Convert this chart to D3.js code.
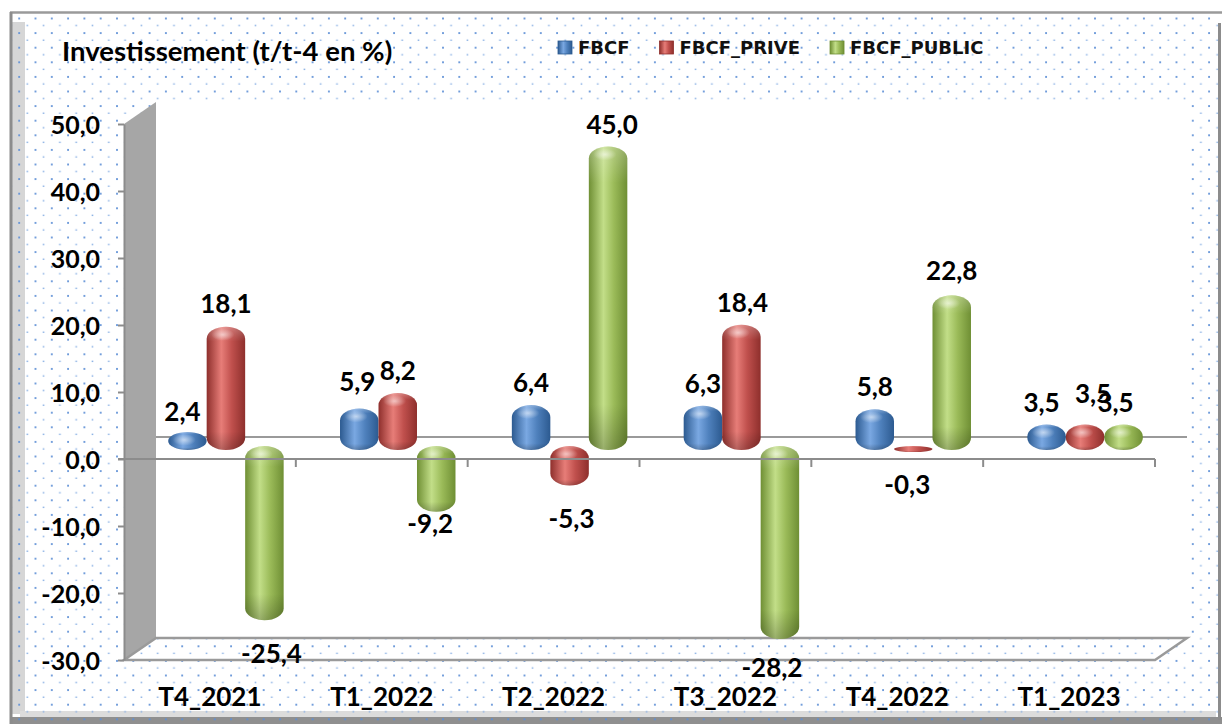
<!DOCTYPE html>
<html>
<head>
<meta charset="utf-8">
<script src="https://cdn.jsdelivr.net/npm/d3@7"></script>
<style>
    body { margin: 0; background: #fff; }
    svg { display: block; }
    .lbl { font-family: Lato, "Open Sans", sans-serif; font-weight: bold; fill: #000; }
</style>
</head>
<body>
<svg width="1222" height="724"></svg>
<script>
// chart values
var categories = ["T4_2021", "T1_2022", "T2_2022", "T3_2022", "T4_2022", "T1_2023"];
var series_names = ["FBCF", "FBCF_PRIVE", "FBCF_PUBLIC"];
var fbcf = [2.4, 5.9, 6.4, 6.3, 5.8, 3.5];
var fbcf_prive = [18.1, 8.2, -5.3, 18.4, -0.3, 3.5];
var fbcf_public = [-25.4, -9.2, 45.0, -28.2, 22.8, 3.5];
var y_ticks = [-30, -20, -10, 0, 10, 20, 30, 40, 50];

// small manual nudges of the data labels (like excel's dragged labels)
var nudge_fbcf = [[-5, 2], [-2, -4], [0, 0], [0, 0], [0, 0], [-5, 0]];
var nudge_prive = [[0, -1], [0, 0], [2, 0], [1, 0], [-6, 0], [8, -9]];
var nudge_public = [[7, 1], [-6, -21], [4, 0], [-8, -4], [0, -2], [-8, 0]];

var colors = {
    FBCF: { dark: "#2c5a90", base: "#4f81bd", light: "#7aa8e2" },
    FBCF_PRIVE: { dark: "#8e2f2c", base: "#c0504d", light: "#e77d78" },
    FBCF_PUBLIC: { dark: "#6f8f34", base: "#9bbb59", light: "#c2de88" }
};

function fmt(v) {
    return v.toFixed(1).replace(".", ",");
}

function build_rows() {
    var values = [fbcf, fbcf_prive, fbcf_public];
    var nudges = [nudge_fbcf, nudge_prive, nudge_public];
    var rows = [];
    for (var s = 0; s < series_names.length; s++) {
        for (var c = 0; c < categories.length; c++) {
            rows.push({
                series: series_names[s],
                category: categories[c],
                value: values[s][c],
                nudge: nudges[s][c]
            });
        }
    }
    return rows;
}

function setup_defs(svg) {
    var defs = svg.append("defs");

    var pat = defs.append("pattern")
        .attr("id", "dots")
        .attr("patternUnits", "userSpaceOnUse")
        .attr("width", 16.3)
        .attr("height", 14.6);
    pat.append("rect").attr("x", 2).attr("y", 3).attr("width", 1.8).attr("height", 1.8).attr("fill", "#5d8fd6");
    pat.append("rect").attr("x", 10.2).attr("y", 10.3).attr("width", 1.6).attr("height", 1.4).attr("fill", "#86aee3");

    for (var k in colors) {
        var g = defs.append("linearGradient")
            .attr("id", "grad_" + k)
            .attr("x1", "0%").attr("x2", "100%").attr("y1", "0%").attr("y2", "0%");
        g.append("stop").attr("offset", "0%").attr("stop-color", colors[k].dark);
        g.append("stop").attr("offset", "38%").attr("stop-color", colors[k].light);
        g.append("stop").attr("offset", "65%").attr("stop-color", colors[k].base);
        g.append("stop").attr("offset", "100%").attr("stop-color", colors[k].dark);
    }

    var shade = defs.append("linearGradient")
        .attr("id", "vshade")
        .attr("x1", "0%").attr("x2", "0%").attr("y1", "0%").attr("y2", "100%");
    shade.append("stop").attr("offset", "0%").attr("stop-color", "#fff").attr("stop-opacity", 0.25);
    shade.append("stop").attr("offset", "12%").attr("stop-color", "#fff").attr("stop-opacity", 0);
    shade.append("stop").attr("offset", "85%").attr("stop-color", "#000").attr("stop-opacity", 0);
    shade.append("stop").attr("offset", "100%").attr("stop-color", "#000").attr("stop-opacity", 0.22);

    var hl = defs.append("radialGradient").attr("id", "hilite");
    hl.append("stop").attr("offset", "0%").attr("stop-color", "#fff").attr("stop-opacity", 0.55);
    hl.append("stop").attr("offset", "100%").attr("stop-color", "#fff").attr("stop-opacity", 0);
}

function draw_frame(svg) {
    // left bevel + bottom band, then the dotted fill on top
    svg.append("rect").attr("x", 12).attr("y", 22).attr("width", 13).attr("height", 692).attr("fill", "#d6d6d6");
    svg.append("rect").attr("x", 20).attr("y", 711).attr("width", 1196).attr("height", 6).attr("fill", "#dcdcdc");
    svg.append("rect").attr("x", 10).attr("y", 717).attr("width", 1212).attr("height", 7).attr("fill", "#8f8f8f");
    svg.append("rect").attr("x", 10).attr("y", 12).attr("width", 1212).attr("height", 712).attr("fill", "url(#dots)");

    svg.append("line").attr("x1", 10).attr("x2", 1222).attr("y1", 12.5).attr("y2", 12.5)
        .attr("stroke", "#9a9a9a").attr("stroke-width", 2.5);
    svg.append("line").attr("x1", 11).attr("x2", 11).attr("y1", 12).attr("y2", 724)
        .attr("stroke", "#8c8c8c").attr("stroke-width", 3);
    svg.append("line").attr("x1", 1219.5).attr("x2", 1219.5).attr("y1", 23).attr("y2", 720)
        .attr("stroke", "#8c8c8c").attr("stroke-width", 3);
}

function draw_chart() {
    var svg = d3.select("svg");
    setup_defs(svg);
    draw_frame(svg);

    var depth_x = 32, depth_y = -22;

    var x_scale = d3.scaleBand().domain(categories).range([124, 1155]);
    var y_scale = d3.scaleLinear().domain([-30, 50]).range([660, 124]);
    var group_w = x_scale.bandwidth() * 0.672;
    var s_scale = d3.scaleBand().domain(series_names).range([0, group_w]);

    var y_min = y_scale(-30), y_max = y_scale(50);
    var x_left = x_scale.range()[0], x_right = x_scale.range()[1];

    // back wall
    svg.append("rect")
        .attr("x", x_left + depth_x).attr("y", y_max + depth_y)
        .attr("width", x_right - x_left).attr("height", y_min - y_max)
        .attr("fill", "#fff");

    // side wall
    svg.append("polygon")
        .attr("points", [[x_left, y_max], [x_left + depth_x, y_max + depth_y],
            [x_left + depth_x, y_min + depth_y], [x_left, y_min]].join(" "))
        .attr("fill", "#a6a6a6");

    // floor outline
    svg.append("polygon")
        .attr("points", [[x_left, y_min], [x_left + depth_x, y_min + depth_y],
            [x_right + depth_x, y_min + depth_y], [x_right, y_min]].join(" "))
        .attr("fill", "none")
        .attr("stroke", "#9a9a9a")
        .attr("stroke-width", 2.5);

    // zero line on back wall
    svg.append("line")
        .attr("x1", x_left + depth_x).attr("x2", x_right + depth_x)
        .attr("y1", y_scale(0) + depth_y).attr("y2", y_scale(0) + depth_y)
        .attr("stroke", "#9a9a9a").attr("stroke-width", 2);

    // y axis
    var y_axis = svg.append("g")
        .attr("transform", "translate(" + x_left + ",0)")
        .call(d3.axisLeft(y_scale)
            .tickValues(y_ticks)
            .tickSize(6)
            .tickSizeOuter(0)
            .tickPadding(18)
            .tickFormat(fmt));
    y_axis.select(".domain").attr("stroke", "#8c8c8c").attr("stroke-width", 2);
    y_axis.selectAll(".tick line").attr("stroke", "#8c8c8c").attr("stroke-width", 2);
    y_axis.selectAll(".tick text")
        .attr("class", "lbl")
        .style("font-size", "25px")
        .attr("dy", "0.36em");

    // bars
    var rows = build_rows();
    var y0 = y_scale(0) + depth_y / 2;
    var bw = s_scale.bandwidth();

    rows.forEach(function (d) {
        d.x = x_scale(d.category) + x_scale.bandwidth() / 2 - group_w / 2 + depth_x / 2 + s_scale(d.series);
        var yv = y_scale(d.value) + depth_y / 2;
        if (d.value >= 0) {
            d.top = yv;
            d.bottom = y0 + 2;
        } else {
            d.top = y0 - 2;
            d.bottom = yv + 2;
        }
    });

    var bars = svg.append("g").selectAll("g.bar")
        .data(rows)
        .enter().append("g")
        .attr("class", "bar");

    bars.append("rect")
        .attr("x", function (d) { return d.x; })
        .attr("y", function (d) { return d.top; })
        .attr("width", bw)
        .attr("height", function (d) { return d.bottom - d.top; })
        .attr("rx", bw / 2)
        .attr("ry", function (d) { return Math.min(12, (d.bottom - d.top) / 2); })
        .attr("fill", function (d) { return "url(#grad_" + d.series + ")"; });

    bars.append("rect")
        .attr("x", function (d) { return d.x; })
        .attr("y", function (d) { return d.top; })
        .attr("width", bw)
        .attr("height", function (d) { return d.bottom - d.top; })
        .attr("rx", bw / 2)
        .attr("ry", function (d) { return Math.min(12, (d.bottom - d.top) / 2); })
        .attr("fill", "url(#vshade)");

    bars.filter(function (d) { return d.bottom - d.top > 12; })
        .append("ellipse")
        .attr("cx", function (d) { return d.x + bw * 0.42; })
        .attr("cy", function (d) { return d.top + 8; })
        .attr("rx", bw * 0.3)
        .attr("ry", 6)
        .attr("fill", "url(#hilite)");

    // front axis line at zero, drawn over the bars
    svg.append("line")
        .attr("x1", x_left - 6).attr("x2", x_right)
        .attr("y1", y_scale(0)).attr("y2", y_scale(0))
        .attr("stroke", "#8c8c8c").attr("stroke-width", 2);
    svg.append("g").selectAll("line")
        .data(categories.slice(1).concat(["end"]))
        .enter().append("line")
        .attr("x1", function (d) { return d == "end" ? x_right : x_scale(d); })
        .attr("x2", function (d) { return d == "end" ? x_right : x_scale(d); })
        .attr("y1", y_scale(0))
        .attr("y2", y_scale(0) + 8)
        .attr("stroke", "#8c8c8c").attr("stroke-width", 2);

    // category labels
    var x_axis = svg.append("g")
        .attr("transform", "translate(0," + y_min + ")")
        .call(d3.axisBottom(x_scale).tickSize(0).tickPadding(28));
    x_axis.select(".domain").remove();
    x_axis.selectAll(".tick text")
        .attr("class", "lbl")
        .style("font-size", "26px");

    // value labels
    svg.append("g").selectAll("text")
        .data(rows)
        .enter().append("text")
        .attr("class", "lbl")
        .style("font-size", "26px")
        .attr("text-anchor", "middle")
        .attr("x", function (d) { return d.x + bw / 2 + d.nudge[0]; })
        .attr("y", function (d) {
            return (d.value >= 0 ? d.top - 13 : d.bottom + 42) + d.nudge[1];
        })
        .text(function (d) { return fmt(d.value); });

    // title
    svg.append("text")
        .attr("class", "lbl")
        .style("font-size", "27.5px")
        .attr("x", 62)
        .attr("y", 61)
        .text("Investissement (t/t-4 en %)");

    display_legend(svg);
}

function display_legend(svg) {
    var x = 558;
    series_names.forEach(function (s) {
        svg.append("rect")
            .attr("x", x).attr("y", 41)
            .attr("width", 14).attr("height", 13)
            .attr("fill", "url(#grad_" + s + ")")
            .attr("stroke", colors[s].dark)
            .attr("stroke-width", 0.8);
        var t = svg.append("text")
            .attr("x", x + 20)
            .attr("y", 53.5)
            .style("font-family", "'DejaVu Sans', Verdana, sans-serif")
            .style("font-weight", "bold")
            .style("font-size", "18px")
            .attr("fill", "#111")
            .text(s);
        x += 20 + t.node().getComputedTextLength() + 30;
    });
}

draw_chart();
</script>
</body>
</html>
